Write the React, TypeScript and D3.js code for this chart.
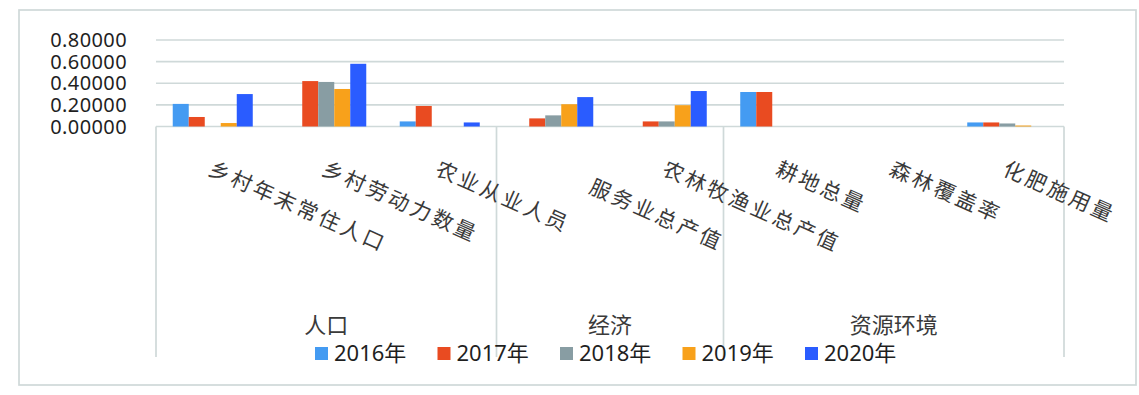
import React, { useEffect, useRef } from 'react';
import * as d3 from 'd3';

// categories and their groups
const categories = ['乡村年末常住人口', '乡村劳动力数量', '农业从业人员', '服务业总产值', '农林牧渔业总产值', '耕地总量', '森林覆盖率', '化肥施用量'];
const groups = ['人口', '人口', '人口', '经济', '经济', '资源环境', '资源环境', '资源环境'];
const groupNames = ['人口', '经济', '资源环境'];
const years = ['2016年', '2017年', '2018年', '2019年', '2020年'];

// values per year
const v2016 = [0.209, 0, 0.047, 0, 0, 0.319, 0, 0.0375];
const v2017 = [0.088, 0.42, 0.19, 0.075, 0.047, 0.319, 0, 0.0375];
const v2018 = [0, 0.412, 0, 0.103, 0.047, 0, 0, 0.028];
const v2019 = [0.032, 0.347, 0, 0.206, 0.197, 0, 0, 0.009];
const v2020 = [0.30, 0.58, 0.0375, 0.272, 0.328, 0, 0, 0];

const yTicks = [0, 0.2, 0.4, 0.6, 0.8];

const colors = ['#449bf2', '#e94b21', '#889da3', '#f8a11b', '#2a5cff'];

const App = () => {
    const chartRef = useRef<SVGSVGElement>(null);

    useEffect(() => {
        drawChart();
    }, []);

    const drawChart = () => {
        const svg = d3.select(chartRef.current);
        svg.selectAll('*').remove();

        const width = 1139;
        const height = 395;
        const plot = { left: 156, right: 1064, top: 40, bottom: 126.5 };
        const gridColor = '#cfd9d9';
        const font = '"Noto Sans", "Noto Sans CJK SC", sans-serif';
        const series = [v2016, v2017, v2018, v2019, v2020];

        svg.attr('width', width).attr('height', height);

        // outer frame
        svg.append('rect')
            .attr('x', 19).attr('y', 10)
            .attr('width', 1117).attr('height', 375)
            .attr('fill', '#fff')
            .attr('stroke', gridColor)
            .attr('stroke-width', 1.7);

        const x0 = d3.scaleBand()
            .domain(categories)
            .range([plot.left, plot.right])
            .paddingInner(0.295)
            .paddingOuter(0.1475);

        const x1 = d3.scaleBand()
            .domain(years)
            .range([0, x0.bandwidth()]);

        const y = d3.scaleLinear()
            .domain([0, 0.8])
            .range([plot.bottom, plot.top]);

        // gridlines
        svg.append('g')
            .selectAll('line')
            .data(yTicks)
            .enter()
            .append('line')
            .attr('x1', plot.left)
            .attr('x2', plot.right)
            .attr('y1', d => y(d))
            .attr('y2', d => y(d))
            .attr('stroke', gridColor)
            .attr('stroke-width', 1.7);

        // y labels
        svg.append('g')
            .selectAll('text')
            .data(yTicks)
            .enter()
            .append('text')
            .attr('x', 127)
            .attr('y', d => y(d))
            .attr('dy', '0.36em')
            .attr('text-anchor', 'end')
            .attr('font-family', font)
            .attr('font-size', 20)
            .attr('letter-spacing', 0.4)
            .attr('fill', '#1f1f1f')
            .text(d => d.toFixed(5));

        // bars
        years.forEach((yr, si) => {
            svg.append('g')
                .selectAll('rect')
                .data(categories.map((c, i) => ({ c, v: series[si][i] })))
                .enter()
                .append('rect')
                .attr('x', d => (x0(d.c) as number) + (x1(yr) as number))
                .attr('width', x1.bandwidth())
                .attr('y', d => y(d.v))
                .attr('height', d => y(0) - y(d.v))
                .attr('fill', colors[si]);
        });

        // group separators
        const step = x0.step();
        const bounds: number[] = [plot.left];
        groupNames.forEach(g => {
            const last = groups.lastIndexOf(g);
            bounds.push(plot.left + (last + 1) * step);
        });
        svg.append('g')
            .selectAll('line')
            .data(bounds)
            .enter()
            .append('line')
            .attr('x1', d => d).attr('x2', d => d)
            .attr('y1', plot.bottom).attr('y2', 357)
            .attr('stroke', gridColor)
            .attr('stroke-width', 1.7);

        // rotated category labels
        svg.append('g')
            .selectAll('text')
            .data(categories)
            .enter()
            .append('text')
            .attr('transform', d => `translate(${(x0(d) as number) + x0.bandwidth() / 2 + 2},157) rotate(24)`)
            .attr('dx', (d, i) => (i === 3 ? '2.1em' : 0))
            .attr('dy', '0.9em')
            .attr('font-family', '"Noto Sans CJK SC", sans-serif')
            .attr('font-size', 21)
            .attr('letter-spacing', 3)
            .attr('fill', '#3a3a3a')
            .text(d => d);

        // group labels
        svg.append('g')
            .selectAll('text')
            .data(groupNames)
            .enter()
            .append('text')
            .attr('x', (d, i) => (bounds[i] + bounds[i + 1]) / 2)
            .attr('y', 333)
            .attr('text-anchor', 'middle')
            .attr('font-family', '"Noto Sans CJK SC", sans-serif')
            .attr('font-size', 22)
            .attr('fill', '#3a3a3a')
            .text(d => d);

        // legend
        const legend = svg.append('g')
            .selectAll('g')
            .data(years)
            .enter()
            .append('g')
            .attr('transform', (d, i) => `translate(${315 + i * 122.5},347)`);
        legend.append('rect')
            .attr('width', 13).attr('height', 13)
            .attr('fill', (d, i) => colors[i]);
        legend.append('text')
            .attr('x', 19)
            .attr('y', 14)
            .attr('font-family', font)
            .attr('font-size', 22)
            .attr('fill', '#1f1f1f')
            .text(d => d);
    };

    return (
        <svg ref={chartRef} style={{ position: 'absolute', left: 0, top: 0, display: 'block' }}></svg>
    );
};

export default App;
